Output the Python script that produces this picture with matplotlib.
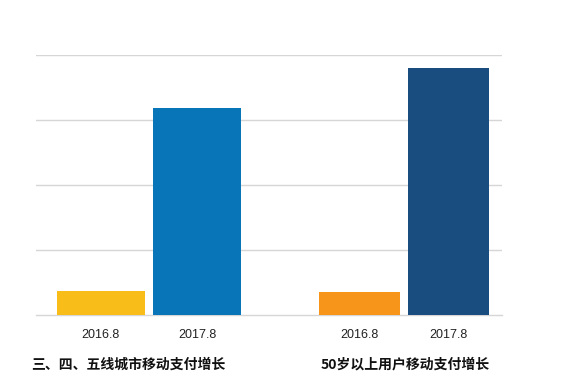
import matplotlib
matplotlib.use("Agg")
import matplotlib.pyplot as plt

categories = ["2016.8", "2017.8", "2016.8", "2017.8"]
values = [0.37, 3.18, 0.36, 3.80]
colors = ["#F8BD19", "#0875B9", "#F7951A", "#194C7F"]
group_titles = ["三、四、五线城市移动支付增长", "50岁以上用户移动支付增长"]

positions = [0.0, 1.0, 2.68, 3.60]
widths = [0.91, 0.91, 0.84, 0.84]

plt.rcParams['font.family'] = ['Noto Sans CJK SC', 'DejaVu Sans']

fig = plt.figure(figsize=(5.73, 3.89), dpi=100)
ax = fig.add_axes([36/573, 1-315/389, (502-36)/573, (315-55)/389])

ax.bar(positions, values, width=widths, color=colors, zorder=3)
ax.set_ylim(0, 4)
ax.set_xlim(-0.67, 4.15)
ax.set_yticks([1, 2, 3, 4])
ax.yaxis.grid(True, color="#D6D6D6", linewidth=1.0, zorder=0)
ax.axhline(0, color="#D6D6D6", linewidth=1.0, zorder=2, clip_on=False)
ax.set_yticklabels([])
ax.tick_params(axis='y', length=0)
ax.set_xticks(positions)
ax.set_xticklabels(categories, fontsize=9, family=['Liberation Sans', 'DejaVu Sans'], color="#222222")
ax.tick_params(axis='x', length=0, pad=10)
for s in ax.spines.values():
    s.set_visible(False)

fig.text(128/573, 1-365/389, group_titles[0], ha='center', va='center',
         fontsize=10, fontweight='bold', color="#111111")
fig.text(405/573, 1-365/389, group_titles[1], ha='center', va='center',
         fontsize=10, fontweight='bold', color="#111111")

fig.savefig("out.png", dpi=100)
